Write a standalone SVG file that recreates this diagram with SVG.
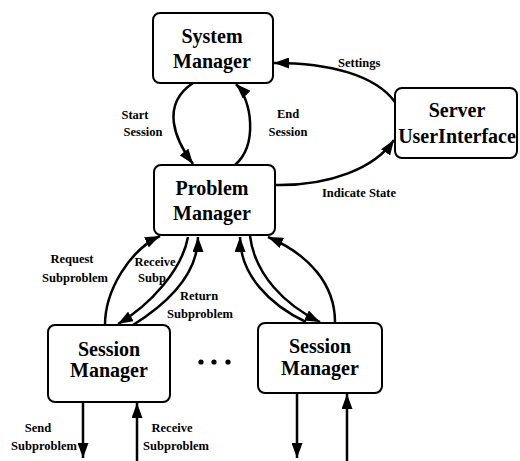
<svg xmlns="http://www.w3.org/2000/svg" width="520" height="461" viewBox="0 0 520 461">
<style>
.box{fill:#fff;stroke:#000;stroke-width:2}
.t{font-family:"Liberation Serif","Times New Roman",serif;font-weight:bold;font-size:20px;text-anchor:middle;fill:#000}
.l{font-family:"Liberation Serif","Times New Roman",serif;font-weight:bold;font-size:12.5px;fill:#000}
.c{fill:none;stroke:#000;stroke-width:2.5}
.ca{fill:none;stroke:#000;stroke-width:2.5;marker-end:url(#ah)}
</style>
<defs>
<marker id="ah" markerUnits="userSpaceOnUse" markerWidth="16" markerHeight="11" refX="15" refY="5.5" orient="auto">
<path d="M0,0 L15,5.5 L0,11 Z" fill="#000"/>
</marker>
</defs>
<rect width="520" height="461" fill="#fff"/>
<g id="connectors">
<path class="ca" d="M193,83 C160,105 175,140 193,164"/>
<path class="ca" d="M235,165 C258,145 252,100 236,84"/>
<path class="ca" d="M395,102 C375,75 330,63 274,63"/>
<path class="ca" d="M275,185 C330,186 375,168 394,140"/>
<path class="ca" d="M105,325 C105,290 130,250 160,236"/>
<path class="ca" d="M188,237 C182,270 150,305 118,324"/>
<path class="ca" d="M133,325 C165,305 198,275 198,237"/>
<path class="ca" d="M306,322 C270,305 240,275 240,237"/>
<path class="ca" d="M250,236 C255,275 285,305 320,322"/>
<path class="ca" d="M335,322 C335,285 310,255 268,237"/>
<path class="ca" d="M83,402 L83,458"/>
<path class="ca" d="M137,461 L137,403"/>
<path class="ca" d="M297,393 L297,458"/>
<path class="ca" d="M347,461 L347,394"/>
</g>
<g id="labels">
<text class="l" x="135" y="119" text-anchor="middle">Start</text>
<text class="l" x="143" y="136" text-anchor="middle">Session</text>
<text class="l" x="288" y="118" text-anchor="middle">End</text>
<text class="l" x="288" y="136" text-anchor="middle">Session</text>
<text class="l" x="338" y="67">Settings</text>
<text class="l" x="322" y="197">Indicate State</text>
<text class="l" x="72" y="263" text-anchor="middle">Request</text>
<text class="l" x="75" y="282" text-anchor="middle">Subproblem</text>
<text class="l" x="155" y="266" text-anchor="middle">Receive</text>
<text class="l" x="152" y="282" text-anchor="middle">Subp</text>
<text class="l" x="199" y="300" text-anchor="middle">Return</text>
<text class="l" x="200" y="318" text-anchor="middle">Subproblem</text>
<text class="l" x="38" y="432" text-anchor="middle">Send</text>
<text class="l" x="44" y="450" text-anchor="middle">Subproblem</text>
<text class="l" x="172" y="432" text-anchor="middle">Receive</text>
<text class="l" x="176" y="450" text-anchor="middle">Subproblem</text>
</g>
<g id="system-manager">
<rect class="box" x="153" y="13" width="120" height="70" rx="7"/>
<text class="t" x="212" y="43">System</text>
<text class="t" x="212" y="68">Manager</text>
</g>
<g id="problem-manager">
<rect class="box" x="154" y="165" width="121" height="70" rx="7"/>
<text class="t" x="212" y="195">Problem</text>
<text class="t" x="212" y="220">Manager</text>
</g>
<g id="server-ui">
<rect class="box" x="395" y="88" width="122" height="70" rx="7"/>
<text class="t" x="457" y="117">Server</text>
<text class="t" x="457" y="143">UserInterface</text>
</g>
<g id="session-manager-1">
<rect class="box" x="48" y="325" width="122" height="77" rx="7"/>
<text class="t" x="109" y="356">Session</text>
<text class="t" x="109" y="377">Manager</text>
</g>
<g id="session-manager-2">
<rect class="box" x="258" y="323" width="124" height="70" rx="7"/>
<text class="t" x="320" y="353">Session</text>
<text class="t" x="320" y="375">Manager</text>
</g>
<g id="ellipsis">
<circle cx="201" cy="362" r="2.6"/>
<circle cx="214" cy="362" r="2.6"/>
<circle cx="228" cy="362" r="2.6"/>
</g>
</svg>
